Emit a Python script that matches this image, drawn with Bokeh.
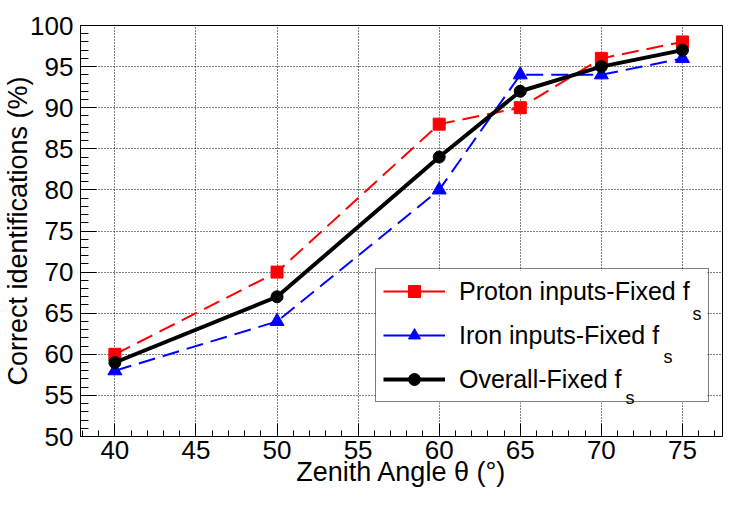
from bokeh.plotting import figure
from bokeh.models import (Range1d, SingleIntervalTicker, Legend, LegendItem, Label,
                          ColumnDataSource, BoxAnnotation)
from bokeh.embed import file_html
from bokeh.resources import INLINE

# ---- data ----
zenith = [40, 50, 60, 65, 70, 75]
proton = [60, 70, 88, 90, 96, 98]
iron = [58, 64, 80, 94, 94, 96]
overall = [59, 67, 84, 92, 95, 97]

labels = ["Proton inputs-Fixed f", "Iron inputs-Fixed f", "Overall-Fixed f"]
x_title = "Zenith Angle θ (°)"
y_title = "Correct identifications (%)"

FONT = "Liberation Sans"

p = figure(width=731, height=489, output_backend="svg", toolbar_location=None,
           x_range=Range1d(37.88, 77.47), y_range=Range1d(50, 100),
           min_border_left=80, min_border_right=9, min_border_top=25,
           min_border_bottom=10)
p.background_fill_color = "white"
p.border_fill_color = "white"
p.outline_line_color = "black"
p.outline_line_width = 1

for ax, tl_major, tl_minor in ((p.xaxis[0], 13, 6), (p.yaxis[0], 16, 8)):
    ax.ticker = SingleIntervalTicker(interval=5, num_minor_ticks=5)
    ax.major_tick_in = tl_major
    ax.major_tick_out = 0
    ax.minor_tick_in = tl_minor
    ax.minor_tick_out = 0
    ax.axis_line_color = "black"
    ax.major_tick_line_color = "black"
    ax.minor_tick_line_color = "black"
    ax.major_label_text_font = FONT
    ax.major_label_text_font_size = "26px"
    ax.major_label_text_color = "black"
    ax.axis_label_text_font = FONT
    ax.axis_label_text_font_size = "27px"
    ax.axis_label_text_font_style = "normal"
    ax.axis_label_text_color = "black"

p.xaxis[0].axis_label = x_title
p.yaxis[0].axis_label = y_title
p.xaxis[0].major_label_standoff = 4
p.xaxis[0].axis_label_standoff = -5
p.yaxis[0].major_label_standoff = 7
p.yaxis[0].axis_label_standoff = -6

for g in (p.xgrid[0], p.ygrid[0]):
    g.grid_line_color = "black"
    g.grid_line_dash = "1 2"
    g.grid_line_width = 1
    g.grid_line_alpha = 1.0
    g.ticker = SingleIntervalTicker(interval=5)

# white panel behind the (transparent) legend, above the grid
LX, LY, LW, LH = 295, 34, 332, 132
p.add_layout(BoxAnnotation(left=LX, right=LX + LW, bottom=LY, top=LY + LH,
                           left_units="screen", right_units="screen",
                           bottom_units="screen", top_units="screen",
                           fill_color="white", fill_alpha=1.0, line_alpha=0,
                           level="underlay"))

src = ColumnDataSource(dict(x=zenith, p=proton, i=iron, o=overall))

# data series
pl = p.line("x", "p", source=src, line_color="#ff0000", line_width=2, line_dash="17 8")
il = p.line("x", "i", source=src, line_color="#0000ff", line_width=2, line_dash="17 8")
ps = p.scatter("x", "p", source=src, marker="square", size=12, fill_color="#ff0000", line_color="#ff0000")
is_ = p.scatter("x", "i", source=src, marker="triangle", size=14, fill_color="#0000ff", line_color="#0000ff")
ol = p.line("x", "o", source=src, line_color="black", line_width=4)
os_ = p.scatter("x", "o", source=src, marker="circle", size=12, fill_color="black", line_color="black")

# solid line samples for the legend (hidden renderers)
pl_leg = p.line("x", "p", source=src, line_color="#ff0000", line_width=2, visible=False)
il_leg = p.line("x", "i", source=src, line_color="#0000ff", line_width=2, visible=False)

legend = Legend(items=[
    LegendItem(label=labels[0], renderers=[pl_leg, ps]),
    LegendItem(label=labels[1], renderers=[il_leg, is_]),
    LegendItem(label=labels[2], renderers=[ol, os_]),
], location=(LX, LY))
legend.label_text_font = FONT
legend.label_text_font_size = "25px"
legend.label_text_color = "black"
legend.padding = 7
legend.spacing = 14
legend.label_height = 30
legend.glyph_height = 30
legend.glyph_width = 62
legend.label_standoff = 14
legend.label_width = 242
legend.margin = 0
legend.border_line_color = "black"
legend.border_line_width = 1
legend.background_fill_alpha = 0
p.add_layout(legend, "center")

# subscripts "s"
for (sx, sy) in ((612, 123), (583, 80), (545, 39)):
    p.add_layout(Label(x=sx, y=sy, x_units="screen", y_units="screen", text="s",
                       text_font=FONT, text_font_size="18px", text_color="black",
                       text_baseline="alphabetic", text_align="left"))

open("out.html", "w").write(file_html(p, INLINE))
